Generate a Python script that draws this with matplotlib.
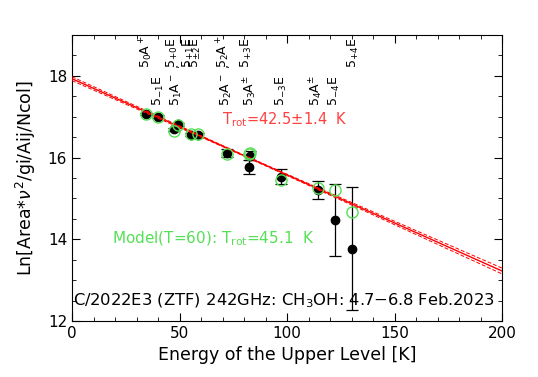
import numpy as np
import matplotlib
matplotlib.use("Agg")
import matplotlib.pyplot as plt
from matplotlib.ticker import MultipleLocator

# Observed points
energy = [34.4, 40.1, 47.6, 49.5, 55.3, 58.7, 71.9, 82.8, 82.3, 97.2, 114.6, 122.3, 130.4]
obs = [17.06, 17.00, 16.69, 16.81, 16.56, 16.55, 16.11, 16.05, 15.77, 15.53, 15.21, 14.48, 13.77]
err = [0.03, 0.03, 0.04, 0.04, 0.04, 0.04, 0.10, 0.10, 0.18, 0.18, 0.22, 0.88, 1.50]
# Model (T=60) points
model = [17.06, 16.99, 16.66, 16.79, 16.58, 16.57, 16.08, 16.10, 16.08, 15.44, 15.26, 15.20, 14.67]

# Fit
fit_intercept = 17.93
fit_trot = 42.5
fit_trot_err = 1.4

# Line labels
labels_top = ["5$_0$A$^+$", "5$_{+0}$E", "5$_{+1}$E", "5$_{\\pm2}$E", "5$_2$A$^+$", "5$_{+3}$E", "5$_{+4}$E"]
labels_top_x = [34.4, 46.8, 54.2, 57.4, 70.4, 81.2, 130.8]
labels_bot = ["5$_{-1}$E", "5$_1$A$^-$ ,", "5$_2$A$^-$ ,", "5$_3$A$^{\\pm}$", "5$_{-3}$E", "5$_4$A$^{\\pm}$", "5$_{-4}$E"]
labels_bot_x = [40.1, 48.7, 72.0, 82.8, 97.5, 113.5, 122.3]

plt.rcParams['font.family'] = ['DejaVu Sans']
fig = plt.figure(figsize=(5.38, 3.77), dpi=100)
ax = fig.add_axes([72/538, 1-321/377, 430/538, 286/377])

xx = np.linspace(0, 200, 400)
slope = -1.0/fit_trot
yfit = fit_intercept + slope*xx
serr = fit_trot_err/fit_trot**2
band = np.sqrt(0.012**2 + (serr*0.75*(xx-80))**2)
ax.plot(xx, yfit, color='red', lw=1.0, zorder=4)
ax.plot(xx, yfit+band, color='red', lw=0.7, ls=(0, (4, 2)), zorder=4)
ax.plot(xx, yfit-band, color='red', lw=0.7, ls=(0, (4, 2)), zorder=4)

ax.errorbar(energy, obs, yerr=err, fmt='o', color='black', ms=6, elinewidth=0.9,
            capsize=4, capthick=0.9, zorder=3)
ax.plot(energy, model, 'o', mfc='none', mec='#55e055', ms=8, mew=1.0, zorder=5)

for t, x in zip(labels_top, labels_top_x):
    ax.text(x, 0.885, t, rotation=90, rotation_mode='anchor', ha='left', va='center',
            transform=ax.get_xaxis_transform(), fontsize=9)
for t, x in zip(labels_bot, labels_bot_x):
    ax.text(x, 0.75, t, rotation=90, rotation_mode='anchor', ha='left', va='center',
            transform=ax.get_xaxis_transform(), fontsize=9)

ax.text(70, 16.93, "T$_{\\rm rot}$=42.5$\\pm$1.4  K", color='#ff4040', fontsize=10.5, va='center')
ax.text(18.5, 14.0, "Model(T=60): T$_{\\rm rot}$=45.1  K", color='#55e055', fontsize=11, va='center')
ax.text(0.5, 12.5, "C/2022E3 (ZTF) 242GHz: CH$_3$OH: 4.7$-$6.8 Feb.2023", color='black',
        fontsize=11.8, va='center')

ax.set_xlim(0, 200)
ax.set_ylim(12, 19)
ax.xaxis.set_major_locator(MultipleLocator(50))
ax.xaxis.set_minor_locator(MultipleLocator(10))
ax.yaxis.set_major_locator(MultipleLocator(2))
ax.yaxis.set_minor_locator(MultipleLocator(0.5))
ax.tick_params(which='both', direction='in', top=True, right=True, labelsize=11)
ax.tick_params(which='major', length=6)
ax.tick_params(which='minor', length=3)
ax.set_xlabel("Energy of the Upper Level [K]", fontsize=12.5, labelpad=4)
ax.set_ylabel("Ln[Area$*\\nu^2$/gi/Aij/Ncol]", fontsize=12.5, labelpad=7)

fig.savefig("out.png", dpi=100)
